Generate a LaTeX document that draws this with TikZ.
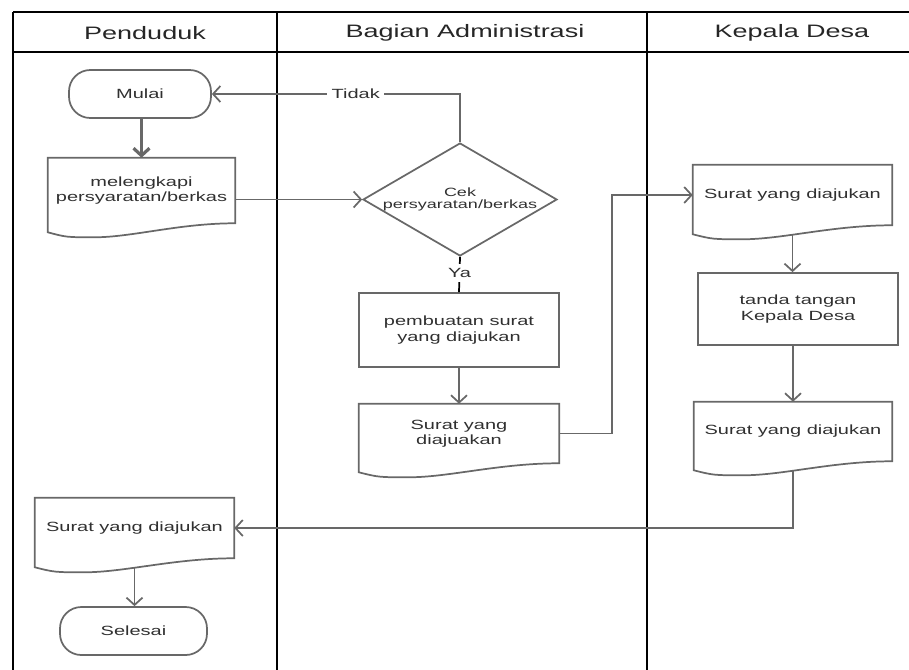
\documentclass[tikz,border=0pt]{standalone}
\usepackage{fontspec}
\setmainfont{Liberation Sans}[FakeStretch=1.5]
\usetikzlibrary{shapes.geometric,arrows.meta,calc}
\definecolor{garis}{HTML}{686868}
\definecolor{teks}{HTML}{303030}
% bentuk dokumen: kotak dengan sisi bawah bergelombang
\newcommand{\dokumen}[1]{%
  \draw[bentuk] (#1.south east) .. controls ($(#1.south west)!0.7!(#1.south east)$) and ($(#1.south west)!0.45!(#1.south east)+(0,14)$) .. ($(#1.south west)!0.25!(#1.south east)+(0,14)$) .. controls ($(#1.south west)!0.1!(#1.south east)+(0,14)$) .. ($(#1.south west)+(0,9)$) -- (#1.north west) -- (#1.north east) -- cycle;
  \coordinate (#1-b) at ($(#1.south)+(0,9.5)$);}
\begin{document}
\begin{tikzpicture}[x=0.75pt,y=-0.75pt,>={Straight Barb[length=5.5pt,width=12pt]},
  bingkai/.style={draw=black,line width=1.3pt},
  bentuk/.style={draw=garis,line width=1.3pt},
  isi/.style={text=teks,align=center,font=\fontsize{10}{11.5}\selectfont},
  kotak/.style={bentuk,isi,rectangle,inner sep=2pt},
  dok/.style={isi,rectangle,draw=none,inner sep=2pt},
  ujung/.style={kotak,rounded corners=16pt,minimum width=#1,minimum height=36pt},
  judul/.style={text=black!85,font=\fontsize{13.5}{16}\selectfont},
  panah/.style={draw=garis,line width=1.3pt,->}]
\useasboundingbox (0,0) rectangle (909,669);
% jalur
\draw[bingkai] (13,12) -- (920,12) (13,52) -- (920,52);
\foreach \x in {13,277,647} \draw[bingkai] (\x,12) -- (\x,680);
\node[judul] (jpenduduk) at (145,33) {Penduduk};
\node[judul] (jadmin) at (465,33) {Bagian Administrasi};
\node[judul] (jkades) at (792,33) {Kepala Desa};
% simbol
\node[ujung=106.5pt] (mulai) at (140,94) {Mulai};
\node[dok,minimum width=140.25pt,minimum height=48.75pt] (lengkap) at (141.5,190.5) {melengkapi\\persyaratan/berkas};
\node[bentuk,diamond,inner sep=0pt,minimum width=145.5pt,minimum height=84.75pt,
  label={[isi,font=\fontsize{9}{9}\selectfont]center:Cek\\persyaratan/berkas}] (cek) at (460,199.5) {};
\node[kotak,minimum width=150pt,minimum height=55.5pt] (buat) at (459,330) {pembuatan surat\\yang diajukan};
\node[dok,minimum width=150pt,minimum height=44.25pt] (surat1) at (459,433.5) {Surat yang\\diajuakan};
\node[dok,minimum width=149.25pt,minimum height=45pt] (kd1) at (792.5,195) {Surat yang diajukan};
\node[kotak,minimum width=150pt,minimum height=54pt] (ttd) at (798,309) {tanda tangan\\Kepala Desa};
\node[dok,minimum width=148.5pt,minimum height=44.25pt] (kd2) at (793,431.5) {Surat yang diajukan};
\node[dok,minimum width=149.25pt,minimum height=45pt] (akhir) at (134.5,528) {Surat yang diajukan};
\node[ujung=110.25pt] (selesai) at (133.5,631) {Selesai};
\foreach \d in {lengkap,surat1,kd1,kd2,akhir} \dokumen{\d};
% alur
\draw[panah,line width=2.4pt] (lengkap.north |- mulai.south) -- (lengkap.north);
\draw[panah] (lengkap.east |- cek.west) -- (cek.west);
\draw[panah] (cek.north) |- (mulai.east) node[pos=0.71,fill=white,isi]{Tidak};
\draw[black,line width=1.3pt] (cek.south) -- (buat.north) node[pos=0.45,fill=white,isi]{Ya};
\draw[panah] (buat.south) -- (surat1.north);
\draw[panah] (surat1.east) -- ++(53,0) |- (kd1.west);
\draw[panah] (kd1-b) -- (kd1-b |- ttd.north);
\draw[panah] (kd2.north |- ttd.south) -- (kd2.north);
\draw[panah] (kd2-b) |- (akhir.east);
\draw[panah] (akhir-b) -- (akhir-b |- selesai.north);
\end{tikzpicture}
\end{document}
